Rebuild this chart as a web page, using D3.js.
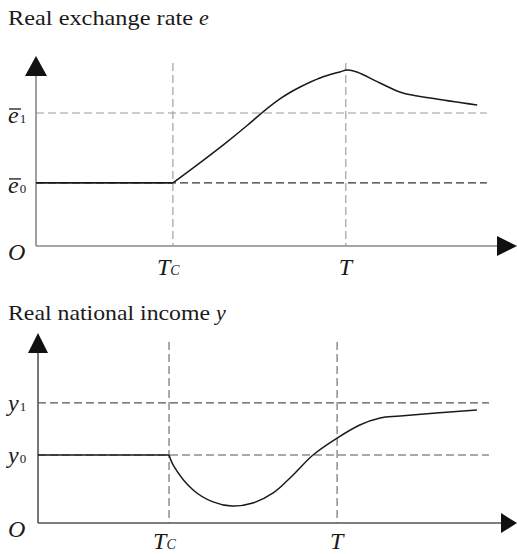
<!DOCTYPE html>
<html><head><meta charset="utf-8">
<script src="https://cdn.jsdelivr.net/npm/d3@7"></script>
<style>
html,body{margin:0;padding:0;background:#fff;}
svg{display:block;}
svg text, svg tspan{font-family:"Liberation Serif","Times New Roman",Tinos !important;}
</style></head>
<body>
<svg id="c" width="517" height="554"></svg>
<script>
// ---- Data (abstract units, 0..100 on each axis) ----
// Panel 1: real exchange rate e
const eTitle = "Real exchange rate";
const eSymbol = "e";
const eLevelNames = ["0", "1"];          // ē0, ē1
const eLevels = [33.2, 70];              // ē0, ē1
const eEventNames = ["Tc", "T"];
const eEvents = [29.7, 67.2];            // Tc, T
const eX = [0, 29.7, 34.1, 41.4, 45.8, 49.2, 52.9, 55.1, 57.3, 61.6, 65.9, 67.5, 69.6, 74.6, 79.6, 85.5, 95.7];
const eY = [33.2, 33.2, 41.1, 54.7, 63.4, 70.5, 77.4, 80.8, 83.7, 88.4, 91.6, 92.6, 91.6, 85.8, 80.5, 77.9, 74.2];

// Panel 2: real national income y
const yTitle = "Real national income";
const ySymbol = "y";
const yLevelNames = ["0", "1"];
const yLevels = [35.8, 63.2];            // y0, y1
const yEventNames = ["Tc", "T"];
const yEvents = [28.3, 64.6];
const yX = [0, 28.3, 29.2, 33.5, 37.8, 41.9, 46.4, 50.8, 55.1, 59.4, 64.6, 69.5, 73.9, 78.2, 94.8];
const yY = [35.8, 35.8, 30.5, 17.4, 11.1, 8.9, 10.5, 15.8, 25.3, 35.8, 44.7, 51.6, 55.3, 56.3, 59.5];

const svg = d3.select("#c");
const ink = "#1a1a1a";

function txt(sel){
  return sel.append("text").attr("font-family", "Liberation Serif").style("font-family", '"Liberation Serif"').attr("fill", ink);
}

function panel(cfg){
  const x = d3.scaleLinear().domain([0,100]).range([cfg.left, cfg.right]);
  const y = d3.scaleLinear().domain([0,100]).range([cfg.bottom, cfg.top]);
  const g = svg.append("g");

  // title
  const t = txt(g).attr("x", 8).attr("y", cfg.titleY).attr("font-size", 22);
  t.append("tspan").text(cfg.title).attr("textLength", cfg.titleW).attr("lengthAdjust","spacingAndGlyphs");
  t.append("tspan").attr("font-style","italic").attr("x", 8 + cfg.titleW + 6).text(cfg.symbol);

  // dashed horizontal levels
  g.selectAll(".lvl").data(cfg.levels).join("line")
    .attr("x1", x(0)).attr("x2", x(cfg.dashEnd))
    .attr("y1", d => y(d)).attr("y2", d => y(d))
    .attr("stroke", (d,i) => cfg.levelColors[i]).attr("stroke-width", 1.1)
    .attr("stroke-dasharray", "8,4");
  // dashed verticals
  g.selectAll(".ev").data(cfg.events).join("line")
    .attr("x1", d => x(d)).attr("x2", d => x(d))
    .attr("y1", y(cfg.vTop)).attr("y2", y(0))
    .attr("stroke", cfg.vColor).attr("stroke-width", 1.1)
    .attr("stroke-dasharray", "8,4");

  // axes
  g.append("line").attr("x1", x(0)).attr("x2", x(0)).attr("y1", y(0)).attr("y2", y(100)+cfg.arrowH-1)
    .attr("stroke", cfg.axisColor).attr("stroke-width", 1.6);
  g.append("line").attr("x1", x(0)).attr("x2", x(100)+1).attr("y1", y(0)).attr("y2", y(0))
    .attr("stroke", cfg.axisColor).attr("stroke-width", 1.6);
  // arrow heads
  const ax = x(0), ay = y(100);
  g.append("path").attr("d", `M${ax},${ay} L${ax+cfg.arrowW/2},${ay+cfg.arrowH} L${ax-cfg.arrowW/2},${ay+cfg.arrowH} Z`).attr("fill","#111");
  const bx = x(100), by = y(0);
  g.append("path").attr("d", `M${bx+cfg.xArrowL},${by} L${bx},${by-10} L${bx},${by+10} Z`).attr("fill","#111");

  // curve: flat part + smooth part
  const pts = cfg.xs.map((d,i) => [d, cfg.ys[i]]);
  const lin = d3.line().x(d => x(d[0])).y(d => y(d[1]));
  const smooth = d3.line().x(d => x(d[0])).y(d => y(d[1])).curve(d3.curveCatmullRom.alpha(0.5));
  g.append("path").attr("d", lin(pts.slice(0,2))).attr("fill","none").attr("stroke",ink).attr("stroke-width",1.6);
  g.append("path").attr("d", smooth(pts.slice(1))).attr("fill","none").attr("stroke",ink).attr("stroke-width",1.5);

  // level labels
  cfg.levels.forEach((v,i) => {
    const by0 = y(v) + cfg.labelDy;
    const tx = txt(g).attr("x", 8).attr("y", by0).attr("font-size", 24);
    tx.append("tspan").attr("font-style","italic").text(cfg.symbol);
    tx.append("tspan").attr("font-size", 13).attr("dx", 1).text(cfg.levelNames[i]);
    if (cfg.bar) {
      g.append("line").attr("x1", 9).attr("x2", 21).attr("y1", by0 - 14).attr("y2", by0 - 14)
        .attr("stroke", ink).attr("stroke-width", 1.3);
    }
  });
  // origin
  txt(g).attr("x", 8).attr("y", y(0) + cfg.oDy).attr("font-size", 24).attr("font-style","italic").text("O");
  // event labels
  cfg.events.forEach((v,i) => {
    const name = cfg.eventNames[i];
    const tx = txt(g).attr("y", y(0) + cfg.evDy).attr("font-size", 24).attr("font-style","italic");
    tx.append("tspan").text(name[0]);
    if (name.length > 1) tx.append("tspan").attr("font-size", 14).attr("dx", 0).text(name.slice(1).toUpperCase());
    tx.attr("x", x(v) - (name.length > 1 ? 16 : 7));
  });
}

panel({title: eTitle, symbol: eSymbol, titleY: 25, titleW: 185,
  left: 36, right: 497, bottom: 246, top: 56,
  levels: eLevels, levelNames: eLevelNames, levelColors: ["#333","#999"], dashEnd: 97.8,
  events: eEvents, eventNames: eEventNames, vColor: "#999", vTop: 96.3,
  axisColor: "#888", arrowW: 22, arrowH: 20, xArrowL: 20,
  xs: eX, ys: eY, bar: true, labelDy: 10, oDy: 14, evDy: 29});

panel({title: yTitle, symbol: ySymbol, titleY: 320, titleW: 202,
  left: 38, right: 501, bottom: 523, top: 333,
  levels: yLevels, levelNames: yLevelNames, levelColors: ["#555","#555"], dashEnd: 97.4,
  events: yEvents, eventNames: yEventNames, vColor: "#666", vTop: 95.3,
  axisColor: "#555", arrowW: 20, arrowH: 20, xArrowL: 16,
  xs: yX, ys: yY, bar: false, labelDy: 8, oDy: 14, evDy: 26});
</script>
</body></html>
